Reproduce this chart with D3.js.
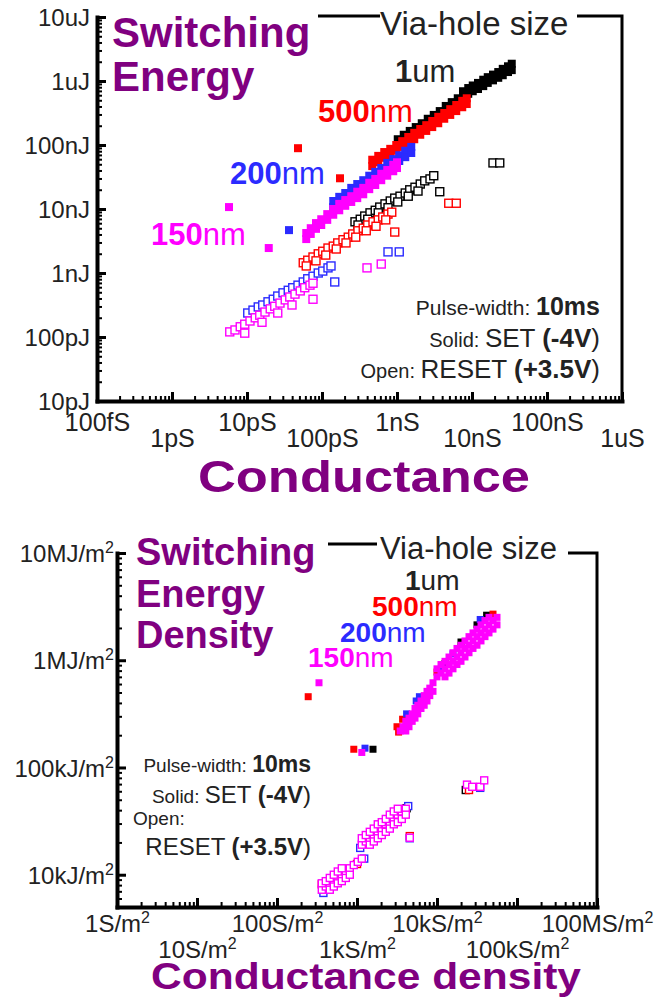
<!DOCTYPE html>
<html>
<head>
<meta charset="utf-8">
<script src="https://cdn.jsdelivr.net/npm/d3@7"></script>
<style>
  body { margin: 0; background: #fff; }
  svg text { font-family: "Liberation Sans", Arial, sans-serif; fill: #222; }
</style>
</head>
<body>
<svg id="fig" width="655" height="1000"></svg>
<script>
// ---- tick labels ----
const topXTicks = [1e-13, 1e-12, 1e-11, 1e-10, 1e-9, 1e-8, 1e-7, 1e-6];
const topXLabels = ["100fS", "1pS", "10pS", "100pS", "1nS", "10nS", "100nS", "1uS"];
const topYTicks = [1e-11, 1e-10, 1e-9, 1e-8, 1e-7, 1e-6, 1e-5];
const topYLabels = ["10pJ", "100pJ", "1nJ", "10nJ", "100nJ", "1uJ", "10uJ"];
const botXTicks = [1, 10, 100, 1e3, 1e4, 1e5, 1e6];
const botXLabels = ["1S/m", "10S/m", "100S/m", "1kS/m", "10kS/m", "100kS/m", "100MS/m"];
const botYTicks = [1e4, 1e5, 1e6, 1e7];
const botYLabels = ["10kJ/m", "100kJ/m", "1MJ/m", "10MJ/m"];

const sizeNum = ["1", "500", "200", "150"];
const sizeUnit = ["um", "nm", "nm", "nm"];

// ---- top panel: [log10 conductance (S), log10 energy (J)] ----
const topSet1um = [[-8.99,-6.91],[-8.91,-6.84],[-8.83,-6.78],[-8.75,-6.72],[-8.67,-6.66],[-8.59,-6.59],[-8.51,-6.53],[-8.43,-6.47],[-8.35,-6.39],[-8.27,-6.33],[-8.19,-6.27],
  [-8.12,-6.16],[-8.05,-6.11],[-7.99,-6.07],[-7.92,-6.03],[-7.85,-5.98],[-7.79,-5.94],[-7.72,-5.90],[-7.65,-5.86],[-7.59,-5.81],[-7.52,-5.77],[-7.47,-5.73],
  [-8.12,-6.25],[-8.05,-6.20],[-7.99,-6.16],[-7.92,-6.125],[-7.85,-6.08],[-7.79,-6.03],[-7.72,-5.99],[-7.65,-5.95],[-7.59,-5.91],[-7.52,-5.86],[-7.47,-5.83]];
const topSet500nm = [[-10.32,-7.05],[-9.76,-7.52],
  [-9.33,-7.23],[-9.25,-7.17],[-9.17,-7.11],[-9.09,-7.06],[-9.01,-7.00],[-8.93,-6.94],[-8.85,-6.875],[-8.77,-6.81],[-8.69,-6.75],[-8.61,-6.69],[-8.53,-6.625],[-8.45,-6.56],[-8.37,-6.50],[-8.29,-6.44],[-8.21,-6.375],[-8.13,-6.31],[-8.07,-6.27],
  [-9.33,-7.33],[-9.25,-7.27],[-9.17,-7.20],[-9.09,-7.16],[-9.01,-7.09],[-8.93,-7.03],[-8.85,-6.97],[-8.77,-6.91],[-8.69,-6.84],[-8.61,-6.78],[-8.53,-6.72],[-8.45,-6.66],[-8.37,-6.59],[-8.29,-6.53],[-8.21,-6.47],[-8.13,-6.41],[-8.07,-6.36]];
const topSet200nm = [[-10.44,-8.33],
  [-9.85,-7.875],[-9.77,-7.81],[-9.69,-7.75],[-9.61,-7.67],[-9.53,-7.61],[-9.45,-7.55],[-9.37,-7.48],[-9.29,-7.42],[-9.21,-7.36],[-9.13,-7.28],[-9.05,-7.22],[-8.97,-7.16],[-8.89,-7.09],[-8.81,-7.03],
  [-9.85,-7.97],[-9.77,-7.91],[-9.69,-7.84],[-9.61,-7.77],[-9.53,-7.70],[-9.45,-7.64],[-9.37,-7.58],[-9.29,-7.52],[-9.21,-7.45],[-9.13,-7.375],[-9.05,-7.31],[-8.97,-7.25],[-8.89,-7.19],[-8.81,-7.125]];
const topSet150nm = [[-11.24,-7.97],[-10.71,-8.61],
  [-10.21,-8.375],[-10.15,-8.30],[-10.08,-8.22],[-10.01,-8.16],[-9.93,-8.08],[-9.85,-8.00],[-9.77,-7.92],[-9.69,-7.86],[-9.61,-7.80],[-9.53,-7.73],[-9.45,-7.67],[-9.37,-7.59],[-9.29,-7.53],[-9.21,-7.45],[-9.13,-7.39],[-9.05,-7.31],[-9.00,-7.27],
  [-10.21,-8.47],[-10.15,-8.39],[-10.08,-8.31],[-10.01,-8.25],[-9.93,-8.17],[-9.85,-8.09],[-9.77,-8.02],[-9.69,-7.95],[-9.61,-7.89],[-9.53,-7.83],[-9.45,-7.77],[-9.37,-7.69],[-9.29,-7.625],[-9.21,-7.55],[-9.13,-7.48],[-9.05,-7.41],[-9.00,-7.36]];
const topReset1um = [[-9.56,-8.20],[-9.49,-8.16],[-9.43,-8.11],[-9.36,-8.06],[-9.29,-8.02],[-9.23,-7.97],[-9.16,-7.92],[-9.09,-7.875],[-9.03,-7.83],[-8.96,-7.80],[-8.89,-7.75],[-8.83,-7.70],[-8.76,-7.66],[-8.69,-7.61],[-8.63,-7.56],[-8.56,-7.53],[-8.51,-7.48],
  [-9.52,-8.25],[-9.39,-8.16],[-9.25,-8.06],[-9.12,-7.98],[-8.99,-7.89],[-8.85,-7.80],[-8.72,-7.72],[-8.43,-7.73],[-7.72,-7.28],[-7.63,-7.28]];
const topReset500nm = [[-10.25,-8.84],[-10.19,-8.80],[-10.12,-8.75],[-10.05,-8.70],[-9.99,-8.66],[-9.92,-8.61],[-9.85,-8.58],[-9.79,-8.53],[-9.72,-8.48],[-9.65,-8.44],[-9.59,-8.39],[-9.52,-8.34],[-9.45,-8.30],[-9.39,-8.25],[-9.32,-8.20],[-9.25,-8.17],[-9.19,-8.125],[-9.12,-8.08],[-9.07,-8.05],
  [-10.21,-8.89],[-10.08,-8.81],[-9.95,-8.72],[-9.81,-8.625],[-9.68,-8.53],[-9.55,-8.44],[-9.41,-8.34],[-9.28,-8.27],[-9.15,-8.17],[-9.03,-8.36],[-8.31,-7.91],[-8.21,-7.91]];
const topReset200nm = [[-10.99,-9.625],[-10.92,-9.58],[-10.85,-9.53],[-10.79,-9.50],[-10.72,-9.45],[-10.65,-9.41],[-10.59,-9.36],[-10.52,-9.31],[-10.45,-9.27],[-10.39,-9.23],[-10.32,-9.19],[-10.25,-9.14],[-10.19,-9.09],[-10.12,-9.05],[-10.05,-9.00],[-9.99,-8.97],[-9.92,-8.92],[-9.88,-8.89],
  [-9.83,-9.14],[-9.12,-8.67],[-8.97,-8.67]];
const topReset150nm = [[-11.23,-9.92],[-11.16,-9.89],[-11.09,-9.84],[-11.03,-9.80],[-10.96,-9.75],[-10.89,-9.70],[-10.83,-9.66],[-10.76,-9.61],[-10.69,-9.56],[-10.63,-9.52],[-10.56,-9.47],[-10.49,-9.42],[-10.43,-9.375],[-10.36,-9.33],[-10.29,-9.28],[-10.23,-9.23],[-10.16,-9.19],[-10.12,-9.16],
  [-11.03,-9.94],[-10.80,-9.77],[-10.59,-9.625],[-10.40,-9.50],[-10.12,-9.41],[-9.40,-8.92],[-9.21,-8.86]];

// ---- bottom panel: [log10 conductance density (S/m2), log10 energy density (J/m2)] ----
const botSet1um = [[3.20,5.17],[4.50,6.33],[4.62,6.42],[4.10,5.97],[3.64,5.47],[3.82,5.65],[4.30,6.17]];
const botSet500nm = [[2.39,5.66],[2.96,5.17],[3.50,5.38],[3.57,5.45],[3.52,5.33],[4.00,5.89],[4.70,6.43]];
const botSet200nm = [[3.10,5.18],[3.74,5.62],[3.78,5.66],[4.06,5.93],[4.54,6.38],[3.62,5.50],[4.20,6.06]];
const botSet150nm = [[2.525,5.79],[3.06,5.14],
  [4.00,5.845],[4.05,5.88],[4.10,5.92],[4.15,5.96],[4.20,5.99],[4.25,6.03],[4.30,6.07],[4.35,6.11],[4.40,6.14],[4.45,6.18],[4.50,6.22],[4.55,6.255],[4.60,6.29],[4.65,6.33],[4.70,6.37],[4.75,6.40],
  [4.00,5.92],[4.05,5.96],[4.10,5.99],[4.15,6.03],[4.20,6.07],[4.25,6.11],[4.30,6.14],[4.35,6.18],[4.40,6.22],[4.45,6.255],[4.50,6.29],[4.55,6.33],[4.60,6.37],[4.65,6.40],
  [4.10,5.845],[4.15,5.88],[4.20,5.92],[4.25,5.96],[4.30,5.99],[4.35,6.03],[4.40,6.07],[4.45,6.11],[4.50,6.14],[4.55,6.18],[4.60,6.22],[4.65,6.255],[4.70,6.29],[4.75,6.33],
  [3.54,5.34],[3.575,5.38],[3.61,5.43],[3.65,5.46],[3.69,5.50],[3.725,5.55],[3.76,5.58],[3.80,5.62],[3.84,5.67],[3.875,5.71],[3.91,5.74],[3.95,5.79],
  [3.61,5.34],[3.65,5.38],[3.69,5.43],[3.725,5.46],[3.76,5.50],[3.80,5.55],[3.84,5.58],[3.875,5.62],[3.91,5.67],[3.95,5.71]];
const botReset1um = [[4.36,4.79],[2.58,3.90],[3.62,4.62],[3.30,4.46]];
const botReset500nm = [[2.56,3.91],[3.66,4.36],[4.40,4.79],[3.00,4.10]];
const botReset200nm = [[3.04,4.25],[3.09,4.15],[3.64,4.64],[3.66,4.34],[4.54,4.81],[2.86,4.02],[3.36,4.48],[2.58,3.83]];
const botReset150nm = [
  [3.06,4.28],[3.11,4.31],[3.16,4.34],[3.21,4.37],[3.26,4.40],[3.31,4.43],[3.36,4.47],[3.41,4.49],[3.46,4.52],[3.51,4.56],[3.56,4.59],[3.61,4.615],
  [3.06,4.34],[3.11,4.37],[3.16,4.40],[3.21,4.43],[3.26,4.47],[3.31,4.49],[3.36,4.52],[3.41,4.56],[3.46,4.59],[3.51,4.615],
  [3.16,4.28],[3.21,4.31],[3.26,4.34],[3.31,4.37],[3.36,4.40],[3.41,4.43],[3.46,4.47],[3.51,4.49],[3.56,4.52],[3.61,4.56],
  [2.56,3.86],[2.61,3.89],[2.66,3.92],[2.71,3.94],[2.76,3.97],[2.81,4.00],[2.86,4.03],[2.91,4.06],[2.96,4.09],[3.01,4.12],[3.06,4.15],
  [2.56,3.92],[2.61,3.94],[2.66,3.97],[2.71,4.00],[2.76,4.03],[2.81,4.06],
  [2.66,3.86],[2.71,3.89],[2.76,3.92],[2.81,3.94],[2.86,3.97],[2.91,4.00],
  [3.66,4.345],[4.375,4.84],[4.44,4.82],[4.54,4.82],[4.59,4.88]];

const colors = ["#000000", "#ff0000", "#2b2bff", "#ff00ff"];
const purple = "#800080";
const svg = d3.select("#fig");

function minorTicks(lo, hi) {
  let out = [];
  for (let e = lo; e < hi; e++) for (let m = 2; m < 10; m++) out.push(m * Math.pow(10, e));
  return out;
}

function drawAxes(g, x, y, o) {
  let x0 = x.range()[0], y0 = y.range()[0];
  // minor ticks first
  g.append("g").attr("transform", "translate(" + x0 + ",0)")
    .call(d3.axisLeft(y).tickValues(o.yMinor).tickSizeInner(-5).tickSizeOuter(0).tickFormat(""))
    .call(s => s.select(".domain").remove())
    .selectAll("line").attr("stroke-width", 2);
  g.append("g").attr("transform", "translate(0," + y0 + ")")
    .call(d3.axisBottom(x).tickValues(o.xMinor).tickSizeInner(-5).tickSizeOuter(0).tickFormat(""))
    .call(s => s.select(".domain").remove())
    .selectAll("line").attr("stroke-width", 2);

  let ya = g.append("g").attr("transform", "translate(" + x0 + ",0)")
    .call(d3.axisLeft(y).tickValues(o.yTicks).tickSizeInner(-9).tickSizeOuter(0)
      .tickFormat((d, i) => o.yLabels[i]));
  let xa = g.append("g").attr("transform", "translate(0," + y0 + ")")
    .call(d3.axisBottom(x).tickValues(o.xTicks).tickSizeInner(-9).tickSizeOuter(0)
      .tickFormat((d, i) => o.xLabels[i]));

  [ya, xa].forEach(a => {
    a.attr("font-size", null).attr("font-family", null);
    a.select(".domain").attr("stroke-width", 4).attr("stroke-linecap", "square");
    a.selectAll(".tick line").attr("stroke-width", 3);
    a.selectAll(".tick text").attr("fill", "#222");
  });
  ya.selectAll(".tick text").attr("font-size", o.yFont).attr("x", -o.yPad).attr("dy", "0.36em");
  xa.selectAll(".tick text").attr("font-size", o.xFont).attr("dy", 0)
    .attr("y", (d, i) => i % 2 ? o.xRow2 : o.xRow1);

  if (o.sup) {
    [ya, xa].forEach(a => a.selectAll(".tick text").append("tspan")
      .attr("dy", -9).attr("font-size", 16).text("2"));
  }
}

function drawSeries(g, x, y, data, color, open, size) {
  g.append("g").selectAll("rect").data(data).join("rect")
    .attr("x", d => x(Math.pow(10, d[0])) - size / 2)
    .attr("y", d => y(Math.pow(10, d[1])) - size / 2)
    .attr("width", size).attr("height", size)
    .attr("fill", open ? "#fff" : color)
    .attr("stroke", open ? color : "none")
    .attr("stroke-width", open ? 1.4 : 0);
}

function sizeLabel(g, i, x, yb, fs) {
  let c = colors[i] === "#000000" ? "#222" : colors[i];
  let t = g.append("text").attr("x", x).attr("y", yb).attr("font-size", fs);
  t.append("tspan").attr("font-weight", "bold").style("fill", c).text(sizeNum[i]);
  t.append("tspan").style("fill", c).text(sizeUnit[i]);
}

function frame(g, pts) {
  g.append("path").attr("d", d3.line()(pts)).attr("fill", "none")
    .attr("stroke", "#000").attr("stroke-width", 3);
}

// ================= top panel =================
{
  let g = svg.append("g");
  let x = d3.scaleLog().domain([1e-13, 1e-6]).range([97, 622]);
  let y = d3.scaleLog().domain([1e-11, 1e-5]).range([401, 17]);

  frame(g, [[318, 16], [380, 16]]);
  frame(g, [[577, 16], [x(1e-6), 16], [x(1e-6), y(1e-11)]]);

  drawAxes(g, x, y, {
    xTicks: topXTicks, xLabels: topXLabels, yTicks: topYTicks, yLabels: topYLabels,
    xMinor: minorTicks(-13, -6), yMinor: minorTicks(-11, -5),
    yFont: 24, xFont: 25, yPad: 7, xRow1: 30, xRow2: 46
  });

  [topReset1um, topReset500nm, topReset200nm, topReset150nm].forEach((d, i) => drawSeries(g, x, y, d, colors[i], true, 8));
  [topSet1um, topSet500nm, topSet200nm, topSet150nm].forEach((d, i) => drawSeries(g, x, y, d, colors[i], false, 8));

  let t = g.append("text").attr("font-size", 42).attr("font-weight", "bold").style("fill", purple);
  t.append("tspan").attr("x", 112).attr("y", 47).text("Switching");
  t.append("tspan").attr("x", 112).attr("y", 91).text("Energy");

  g.append("text").attr("x", 380).attr("y", 35).attr("font-size", 33).text("Via-hole size");
  sizeLabel(g, 0, 395, 82, 31);
  sizeLabel(g, 1, 318, 122, 31);
  sizeLabel(g, 2, 230, 184, 31);
  sizeLabel(g, 3, 151, 245, 31);

  let l1 = g.append("text").attr("x", 600).attr("y", 315).attr("text-anchor", "end");
  l1.append("tspan").attr("font-size", 21).text("Pulse-width: ");
  l1.append("tspan").attr("font-size", 25).attr("font-weight", "bold").text("10ms");
  let l2 = g.append("text").attr("x", 600).attr("y", 347).attr("text-anchor", "end");
  l2.append("tspan").attr("font-size", 20).text("Solid: ");
  l2.append("tspan").attr("font-size", 26).text("SET ");
  l2.append("tspan").attr("font-size", 26).attr("font-weight", "bold").text("(-4V");
  l2.append("tspan").attr("font-size", 26).text(")");
  let l3 = g.append("text").attr("x", 600).attr("y", 378).attr("text-anchor", "end");
  l3.append("tspan").attr("font-size", 20).text("Open: ");
  l3.append("tspan").attr("font-size", 26).text("RESET ");
  l3.append("tspan").attr("font-size", 26).attr("font-weight", "bold").text("(+3.5V");
  l3.append("tspan").attr("font-size", 26).text(")");

  g.append("text").attr("x", 364).attr("y", 492).attr("text-anchor", "middle")
    .attr("font-size", 44).attr("font-weight", "bold").attr("textLength", 332)
    .attr("lengthAdjust", "spacingAndGlyphs").style("fill", purple).text("Conductance");
}

// ================= bottom panel =================
{
  let g = svg.append("g");
  let x = d3.scaleLog().domain([1, 1e6]).range([117, 597]);
  let y = d3.scaleLog().domain([5e3, 1e7]).range([907, 553]);

  frame(g, [[328, 544], [377, 544]]);
  frame(g, [[568, 553], [x(1e6), 553], [x(1e6), y(5e3)]]);

  drawAxes(g, x, y, {
    xTicks: botXTicks, xLabels: botXLabels, yTicks: botYTicks, yLabels: botYLabels,
    xMinor: minorTicks(0, 6), yMinor: minorTicks(3, 7).filter(v => v > 5e3),
    yFont: 24, xFont: 24, yPad: 3, xRow1: 25, xRow2: 51, sup: true
  });

  [botReset1um, botReset500nm, botReset200nm, botReset150nm].forEach((d, i) => drawSeries(g, x, y, d, colors[i], true, 7));
  [botSet1um, botSet500nm, botSet200nm, botSet150nm].forEach((d, i) => drawSeries(g, x, y, d, colors[i], false, 7));

  let t = g.append("text").attr("font-size", 38).attr("font-weight", "bold").style("fill", purple);
  t.append("tspan").attr("x", 136).attr("y", 565).text("Switching");
  t.append("tspan").attr("x", 136).attr("y", 607).text("Energy");
  t.append("tspan").attr("x", 136).attr("y", 648).text("Density");

  g.append("text").attr("x", 380).attr("y", 559).attr("font-size", 31).text("Via-hole size");
  sizeLabel(g, 0, 405, 590, 28);
  sizeLabel(g, 1, 372, 616, 28);
  sizeLabel(g, 2, 340, 642, 28);
  sizeLabel(g, 3, 308, 667, 28);

  let l1 = g.append("text").attr("x", 311).attr("y", 772).attr("text-anchor", "end");
  l1.append("tspan").attr("font-size", 19).text("Pulse-width: ");
  l1.append("tspan").attr("font-size", 23).attr("font-weight", "bold").text("10ms");
  let l2 = g.append("text").attr("x", 311).attr("y", 803).attr("text-anchor", "end");
  l2.append("tspan").attr("font-size", 19).text("Solid: ");
  l2.append("tspan").attr("font-size", 24).text("SET ");
  l2.append("tspan").attr("font-size", 24).attr("font-weight", "bold").text("(-4V");
  l2.append("tspan").attr("font-size", 24).text(")");
  g.append("text").attr("x", 133).attr("y", 825).attr("font-size", 19).text("Open:");
  let l4 = g.append("text").attr("x", 311).attr("y", 855).attr("text-anchor", "end");
  l4.append("tspan").attr("font-size", 24).text("RESET ");
  l4.append("tspan").attr("font-size", 24).attr("font-weight", "bold").text("(+3.5V");
  l4.append("tspan").attr("font-size", 24).text(")");

  g.append("text").attr("x", 366).attr("y", 989).attr("text-anchor", "middle")
    .attr("font-size", 36).attr("font-weight", "bold").attr("textLength", 430)
    .attr("lengthAdjust", "spacingAndGlyphs").style("fill", purple).text("Conductance density");
}
</script>
</body>
</html>
